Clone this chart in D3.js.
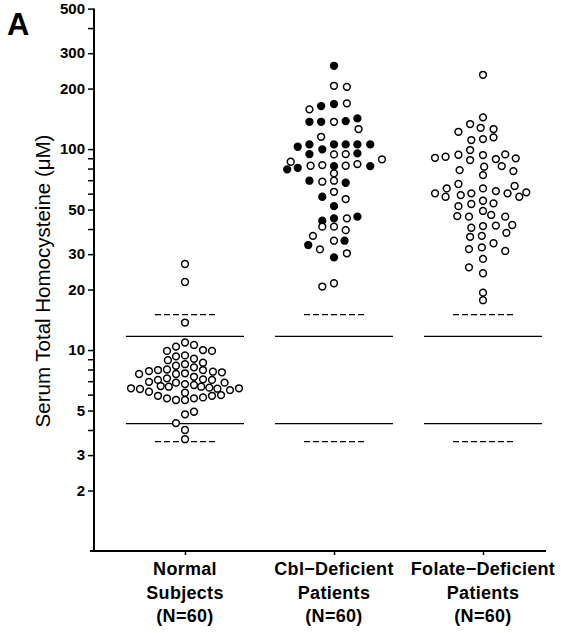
<!DOCTYPE html>
<html>
<head>
<meta charset="utf-8">
<script src="https://cdn.jsdelivr.net/npm/d3@7"></script>
<style>
  body { margin: 0; background: white; }
  text { font-family: Helvetica, Arial, "Liberation Sans", sans-serif; fill: black; }
</style>
</head>
<body>
<div id="vis"></div>
<script>
const layout = {
    width: 561,
    height: 633,
    axisX: 94,
    axisRight: 546,
    yTop: 8.6,
    yBottom: 551,
    firstCenter: 185,
    lastCenter: 483,
    refHalf: 59,
    dashHalf: 30,
    r: 3.4
};

// groups and labels
const groups = ["normal", "cbl", "folate"];
const groupLabels = [
    ["Normal", "Subjects", "(N=60)"],
    ["Cbl\u2212Deficient", "Patients", "(N=60)"],
    ["Folate\u2212Deficient", "Patients", "(N=60)"]
];

// y ticks
const majorTicks = [2, 3, 5, 10, 20, 30, 50, 100, 200, 300, 500];
const minorTicks = [4, 6, 7, 8, 9, 40, 60, 70, 80, 90, 400];

// reference lines (uM)
const solidRefs = [4.3, 11.7];
const dashedRefs = [3.5, 15];

// [column slot, tHcy uM]
const normal = [
    [0,26.8],[0,21.8],[0,13.7],
    [0,10.9],[1,10.6],
    [-2,9.9],[-1,10.4],[2,10.0],[3,9.9],
    [-1.9,8.9],[-1,9.3],[0,9.4],[1,9.05],[2,8.65],
    [-1,8.35],[0,8.5],[1,8.2],
    [-5.1,7.6],[-4,7.86],[-3,7.95],[-2,8.0],[-1,7.6],[0,7.66],[2,7.95],[3.1,7.8],[4.1,7.75],
    [-4,6.95],[-3,7.1],[-2,7.23],[-1,6.88],[1,7.36],[2,7.15],[3,7.1],[4.4,6.88],
    [-6,6.45],[-5,6.4],[-4,6.2],[-2.7,6.62],[-1.8,6.57],[0,6.77],[1,6.7],[1.8,6.57],[2.7,6.5],[3.6,6.42],[5,6.32],[6,6.45],
    [-3,5.92],[-2,5.75],[-1,5.64],[0,6.13],[0,5.64],[1,5.75],[2,5.81],[3,5.92],[4,5.97],
    [0,4.79],[1,4.93],
    [-1,4.33],[0,4.0],[0,3.6]
];

// [column slot, tHcy uM, filled]
const cbl = [
    [0,259.6,1],
    [0,206.5,0],[1.1,204,0],
    [-2.1,157.6,0],[-1.1,163.7,1],[0,167.5,1],[1.1,168.8,0],
    [-2.1,136.7,1],[-1.1,136.7,1],[0,136.7,0],[1,137.8,1],[2,142.1,1],
    [2.1,125.8,0],
    [-1.1,115.1,0],
    [-3.1,102.7,1],[-2.1,105.5,1],[0,105.5,1],[1,105.5,1],[2,105.5,1],[3.1,105.5,1],
    [-2.1,94.4,1],[-1,99.7,1],[0,94.1,0],[1,94.4,0],[2,95.2,1],
    [-3.7,86.5,0],[-4,79.3,1],[-3.1,80.7,1],[-2,82.6,0],[-1,83.2,0],[0,82.3,1],[1,82.6,0],[2,84.2,0],[3.1,82.3,1],[4.1,88.9,0],
    [0,75.7,0],
    [-2.1,69.6,1],[-1,68.8,0],[0,69.6,0],[1,68.0,1],
    [-1,57.9,1],[0,61.3,0],[1,56.4,0],
    [0,52.0,1],
    [-1,44.0,1],[0,45.2,1],[1.1,45.2,0],[2,46.1,1],
    [-1,41.1,0],[0,41.1,0],[1,39.5,0],
    [-1.8,37.0,0],
    [-2.2,33.3,1],[-1.2,31.7,0],[0,35.0,0],[0.9,35.0,1],
    [0,28.9,1],[1.1,30.3,0],
    [-1,20.7,0],[0,21.5,0]
];

const folate = [
    [0,234.2],
    [0,143.8],
    [-1.1,133.2],[-2.1,121.9],[-0.2,127.6],[0.9,125.8],
    [-1,110.9],[0,112.1],[0.9,114.4],
    [-4.1,90.5],[-3.2,91.6],[-2.1,93.7],[-1.1,98.9],[-1.1,88.2],[0,93.4],[1.1,89.2],[1.9,94.1],[2.8,89.9],
    [-2,78.6],[0.1,81.7],[1.6,82.3],[2.6,77.7],[0,74.2],
    [-4.1,60.2],[-3.1,63.7],[-3.2,57.9],[-2.1,67.0],[-1.9,59.0],[-1,60.2],[0,63.7],[1.1,61.8],[2.1,60.2],[2.7,65.5],[3.1,57.9],[3.7,60.9],
    [-2.1,52.0],[-1,53.3],[0,55.3],[0.9,53.7],
    [-2.2,46.4],[-1.2,46.1],[0,49.2],[0.7,47.0],[1.9,46.1],
    [-1,40.6],[0,41.4],[1.1,41.6],[2.5,41.9],[2,38.3],
    [-1.1,36.6],[-0.1,37.0],
    [-1.2,31.8],[-0.1,32.4],[0.9,34.0],[1.9,31.1],
    [0,28.4],
    [-1.2,25.8],[0,24.1],
    [0,19.3],[0,17.7]
];

// column spacing per group (px)
const slotStep = { normal: 9, cbl: 11.7, folate: 11.7 };

let svg = d3.select("#vis").append("svg")
    .attr("width", layout.width)
    .attr("height", layout.height);

let yScale = d3.scaleLog()
    .domain([1, 500])
    .range([layout.yBottom, layout.yTop]);

let xScale = d3.scalePoint()
    .domain(groups)
    .range([layout.firstCenter, layout.lastCenter]);

// y axis
let yAxis = svg.append("g")
    .attr("transform", `translate(${layout.axisX},0)`)
    .call(d3.axisLeft(yScale).tickValues(majorTicks.concat(minorTicks)).tickSize(6)
        .tickFormat(d => majorTicks.includes(d) ? d : ""));
yAxis.select(".domain").attr("d", `M0,${yScale(500)}V${layout.yBottom}`).attr("stroke-width", 2);
yAxis.selectAll(".tick line").attr("stroke-width", 1.5);
yAxis.selectAll("text")
    .attr("font-size", 15)
    .attr("font-weight", "bold")
    .attr("x", -9)
    .attr("font-family", "Helvetica, Arial, 'Liberation Sans', sans-serif");

// x axis
let xAxis = svg.append("g")
    .attr("transform", `translate(0,${layout.yBottom})`)
    .call(d3.axisBottom(xScale).tickSize(4).tickFormat(""));
xAxis.select(".domain").attr("d", `M${layout.axisX - 4},0H${layout.axisRight}`).attr("stroke-width", 2);
xAxis.selectAll(".tick line").attr("stroke-width", 1.5);

// category labels
groups.forEach((g, i) => {
    let t = svg.append("text")
        .attr("text-anchor", "middle")
        .attr("font-size", 18)
        .attr("font-weight", "bold")
        .attr("letter-spacing", 0.3);
    groupLabels[i].forEach((line, j) => {
        t.append("tspan")
            .attr("x", xScale(g))
            .attr("y", 575 + j * 23.5)
            .text(line);
    });
});

// y label
svg.append("text")
    .attr("transform", `translate(50,281) rotate(-90)`)
    .attr("text-anchor", "middle")
    .attr("font-size", 20.5)
    .text("Serum Total Homocysteine (\u03bcM)");

// panel letter
svg.append("text")
    .attr("x", 7)
    .attr("y", 35)
    .attr("font-size", 31)
    .attr("font-weight", "bold")
    .text("A");

// reference lines
let refs = svg.append("g");
groups.forEach(g => {
    solidRefs.forEach(v => {
        refs.append("line")
            .attr("x1", xScale(g) - layout.refHalf).attr("x2", xScale(g) + layout.refHalf)
            .attr("y1", yScale(v)).attr("y2", yScale(v))
            .attr("stroke", "black").attr("stroke-width", 1.3);
    });
    dashedRefs.forEach(v => {
        refs.append("line")
            .attr("x1", xScale(g) - layout.dashHalf).attr("x2", xScale(g) + layout.dashHalf)
            .attr("y1", yScale(v)).attr("y2", yScale(v))
            .attr("stroke", "black").attr("stroke-width", 1.3)
            .attr("stroke-dasharray", "6,3");
    });
});

// points
const groupData = { normal: normal, cbl: cbl, folate: folate };
groups.forEach(g => {
    svg.append("g")
        .selectAll("circle")
        .data(groupData[g])
        .join("circle")
        .attr("cx", d => xScale(g) + d[0] * slotStep[g])
        .attr("cy", d => yScale(d[1]))
        .attr("r", layout.r)
        .attr("fill", d => d[2] === 1 ? "black" : "white")
        .attr("stroke", "black")
        .attr("stroke-width", 1.5);
});
</script>
</body>
</html>
